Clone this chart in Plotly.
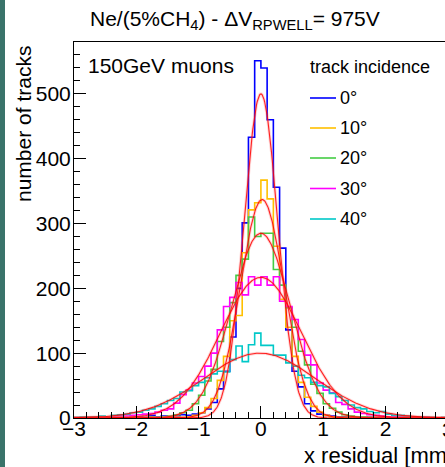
import numpy as np
import plotly.graph_objects as go

# ---------------- data ----------------
bin_lo = -3.0
bin_w = 0.1
n_bins = 60

angles = ["0°", "10°", "20°", "30°", "40°"]
colors = ["#0000ff", "#ffc000", "#44cc44", "#ff00ff", "#00c8c8"]

counts_0 = [0, 0, 1, 0, 0, 0, 1, 0, 1, 1, 2, 1, 4, 2, 3, 2, 3, 5, 4, 6,
            8, 14, 24, 45, 72, 125, 200, 301, 433, 551, 540, 460, 356, 262, 136, 72, 48, 22, 11, 6,
            4, 3, 2, 2, 1, 1, 2, 1, 0, 1, 0, 0, 1, 0, 2, 0, 0, 0, 0, 0]
counts_10 = [0, 0, 0, 0, 0, 1, 0, 0, 0, 1, 0, 0, 1, 0, 1, 1, 1, 1, 2, 4,
             8, 16, 30, 58, 95, 150, 158, 255, 321, 332, 367, 338, 265, 183, 140, 95, 55, 32, 18, 9,
             4, 2, 1, 1, 0, 1, 0, 0, 1, 0, 0, 0, 0, 1, 0, 0, 0, 0, 0, 0]
counts_20 = [0, 0, 1, 0, 0, 1, 0, 1, 0, 1, 1, 0, 2, 1, 2, 3, 5, 8, 12, 22,
             35, 57, 75, 118, 140, 178, 220, 245, 310, 280, 285, 285, 229, 205, 170, 140, 103, 82, 52, 38,
             22, 15, 9, 5, 3, 2, 2, 1, 1, 0, 1, 0, 0, 1, 0, 0, 1, 0, 0, 0]
counts_30 = [0, 1, 0, 1, 1, 2, 2, 3, 3, 4, 5, 6, 7, 9, 12, 14, 23, 36, 43, 54,
             64, 80, 100, 136, 172, 186, 209, 190, 218, 205, 218, 205, 218, 180, 172, 152, 121, 97, 82, 54,
             43, 39, 24, 21, 14, 9, 7, 5, 4, 3, 2, 2, 1, 1, 1, 0, 1, 0, 0, 0]
counts_40 = [1, 2, 1, 2, 3, 2, 4, 5, 6, 8, 9, 12, 14, 18, 22, 27, 30, 40, 42, 50,
             55, 62, 68, 72, 71, 90, 111, 87, 113, 131, 112, 112, 97, 97, 85, 80, 66, 62, 55, 50,
             48, 38, 33, 27, 20, 16, 14, 10, 8, 10, 6, 4, 4, 3, 2, 2, 1, 1, 0, 1]
all_counts = [counts_0, counts_10, counts_20, counts_30, counts_40]

# gaussian fit parameters (amplitude, mean, sigma) per incidence angle
fit_amp = [500, 337, 285, 217, 100]
fit_mean = [0.0, 0.02, 0.0, 0.0, -0.02]
fit_sigma = [0.27, 0.35, 0.47, 0.65, 0.9]

x_ticks = [-3, -2, -1, 0, 1, 2]
y_ticks = [0, 100, 200, 300, 400, 500]

# ---------------- figure ----------------
W, H = 445, 467
L, R, T, B = 74, 0, 42, 49
FONT = "Liberation Sans, Arial, Helvetica, sans-serif"

def px(xp):
    return (xp - L) / (W - L - R)

def py(yp):
    return (H - B - yp) / (H - T - B)

edges = [bin_lo + i * bin_w for i in range(n_bins + 1)]

fig = go.Figure()
for vals, col in zip(all_counts, colors):
    fig.add_trace(go.Scatter(
        x=edges, y=list(vals) + [vals[-1]], mode="lines",
        line=dict(color=col, width=1.6, shape="hv"),
        showlegend=False, hoverinfo="skip"))

xs = np.linspace(-3, 3, 601)
for a, m, s in zip(fit_amp, fit_mean, fit_sigma):
    ys = a * np.exp(-0.5 * ((xs - m) / s) ** 2)
    fig.add_trace(go.Scatter(
        x=xs, y=ys, mode="lines",
        line=dict(color="rgba(255,90,90,0.25)", width=3),
        showlegend=False, hoverinfo="skip"))
    fig.add_trace(go.Scatter(
        x=xs, y=ys, mode="lines",
        line=dict(color="rgba(255,0,0,0.85)", width=1.1),
        showlegend=False, hoverinfo="skip"))

annotations = []
shapes = []

# left dark border
shapes.append(dict(type="rect", xref="paper", yref="paper",
                   x0=px(0), x1=px(5), y0=py(H), y1=py(0),
                   fillcolor="#3a736a", line=dict(width=0), layer="below"))

annotations.append(dict(text="Ne/(5%CH<sub>4</sub>) - ΔV<sub>RPWELL</sub>= 975V",
                        xref="paper", yref="paper", x=px(235), y=py(20),
                        xanchor="center", yanchor="middle", showarrow=False,
                        font=dict(size=21, family=FONT, color="black")))
annotations.append(dict(text="150GeV muons", xref="paper", yref="paper",
                        x=px(86), y=py(65), xanchor="left", yanchor="middle",
                        showarrow=False, font=dict(size=21, family=FONT, color="black")))
annotations.append(dict(text="track incidence", xref="paper", yref="paper",
                        x=px(308), y=py(67), xanchor="left", yanchor="middle",
                        showarrow=False, font=dict(size=18, family=FONT, color="black")))
row_y = [98, 128, 158, 188.5, 219]
for lab, col, ry in zip(angles, colors, row_y):
    shapes.append(dict(type="line", xref="paper", yref="paper",
                       x0=px(310), x1=px(336), y0=py(ry), y1=py(ry),
                       line=dict(color=col, width=1.6)))
    annotations.append(dict(text=lab, xref="paper", yref="paper",
                            x=px(338), y=py(ry), xanchor="left", yanchor="middle",
                            showarrow=False, font=dict(size=18, family=FONT, color="black")))

annotations.append(dict(text="number of tracks", xref="paper", yref="paper",
                        x=px(23), y=py(124), xanchor="center", yanchor="middle",
                        textangle=-90, showarrow=False,
                        font=dict(size=21, family=FONT, color="black")))
annotations.append(dict(text="x residual [mm]", xref="paper", yref="paper",
                        x=px(302), y=py(456), xanchor="left", yanchor="middle",
                        showarrow=False, font=dict(size=22, family=FONT, color="black")))
annotations.append(dict(text="3", xref="paper", yref="paper",
                        x=px(448), y=py(429), xanchor="center", yanchor="middle",
                        showarrow=False, font=dict(size=21, family=FONT, color="black")))

fig.update_layout(
    width=W, height=H,
    margin=dict(l=L, r=R, t=T, b=B, pad=0),
    paper_bgcolor="white", plot_bgcolor="white",
    showlegend=False,
    annotations=annotations, shapes=shapes,
    xaxis=dict(range=[-3, bin_lo + (W - L - R) / 62.3], tickvals=x_ticks,
               ticks="inside", ticklen=12, tickwidth=1, tickcolor="black",
               showline=True, linecolor="black", linewidth=1, mirror=True,
               showgrid=False, zeroline=False, ticklabelstandoff=-8,
               tickfont=dict(size=21, family=FONT, color="black"),
               minor=dict(ticks="inside", ticklen=6, tickwidth=1, tickcolor="black",
                          dtick=0.2, tick0=0, showgrid=False)),
    yaxis=dict(range=[0, 580], tickvals=y_ticks,
               ticks="inside", ticklen=12, tickwidth=1, tickcolor="black",
               showline=True, linecolor="black", linewidth=1,
               showgrid=False, zeroline=False, ticklabelstandoff=-2,
               tickfont=dict(size=21, family=FONT, color="black"),
               minor=dict(ticks="inside", ticklen=6, tickwidth=1, tickcolor="black",
                          dtick=20, tick0=0, showgrid=False)),
)

fig.write_html("out.html")
